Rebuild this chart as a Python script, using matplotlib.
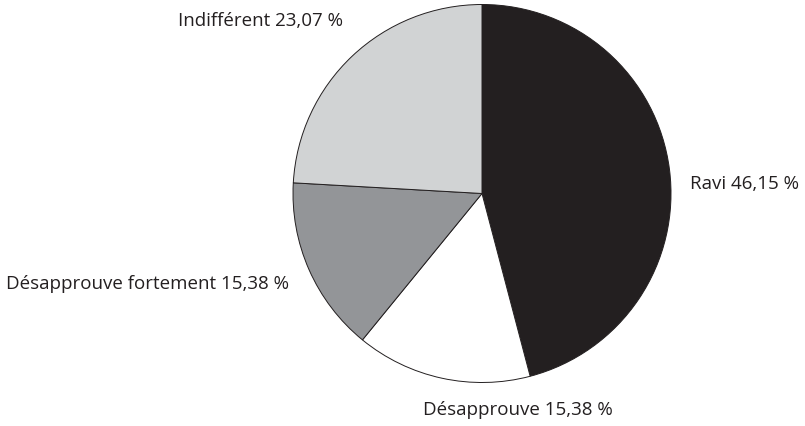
import matplotlib
matplotlib.use("Agg")
import matplotlib.pyplot as plt

labels = ["Ravi", "Désapprouve", "Désapprouve fortement", "Indifférent"]
# percentages printed in the labels
label_values = ["46,15 %", "15,38 %", "15,38 %", "23,07 %"]
# wedge shares as actually drawn in the reference artwork
drawn_shares = [45.9, 15.0, 15.0, 24.1]
colors = ["#231f20", "#ffffff", "#939598", "#d1d3d4"]

plt.rcParams["font.family"] = ["Open Sans", "DejaVu Sans"]

W, H = 805, 426
cx, cy, r = 482, 193.5, 189

fig = plt.figure(figsize=(W / 100, H / 100), dpi=100)
ax = fig.add_axes([(cx - r) / W, (H - cy - r) / H, 2 * r / W, 2 * r / H])
ax.pie(
    drawn_shares,
    colors=colors,
    startangle=90,
    counterclock=False,
    radius=1,
    wedgeprops=dict(edgecolor="#231f20", linewidth=0.7),
)
ax.set_xlim(-1, 1)
ax.set_ylim(-1, 1)
ax.set_aspect("equal")
ax.axis("off")

# label anchors, in pie radius units
label_pos = [
    (1.098, 0.048, "left"),
    (0.19, -1.143, "center"),
    (-1.019, -0.481, "right"),
    (-0.738, 0.915, "right"),
]
for name, txt, (x, y, ha) in zip(labels, label_values, label_pos):
    ax.text(x, y, f"{name} {txt}", ha=ha, va="center", fontsize=13.5,
            color="#231f20", clip_on=False)

fig.savefig("out.png", dpi=100)
